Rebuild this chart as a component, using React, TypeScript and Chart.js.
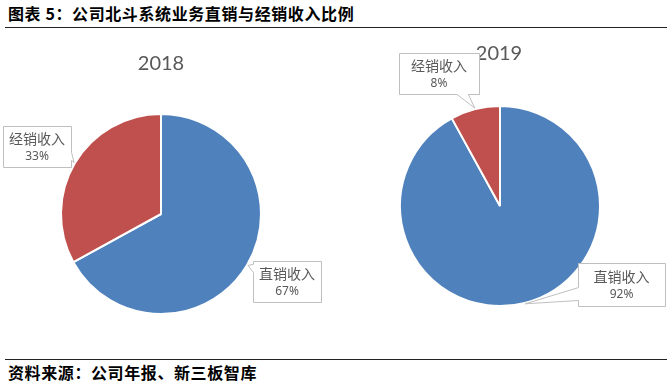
import React, { useEffect, useRef } from "react";
import { Chart, registerables } from "chart.js";

Chart.register(...registerables);

const categories = ["直销收入", "经销收入"];
const years = ["2018", "2019"];
const share2018 = [67, 33];
const share2019 = [92, 8];
const colors = ["#4F81BD", "#C0504D"];

const titleText = "图表 5：公司北斗系统业务直销与经销收入比例";
const sourceText = "资料来源：公司年报、新三板智库";

type Callout = { box: [number, number, number, number]; side: "left" | "right" | "bottom"; base: [number, number] };

const calloutPlugin = {
  id: "callouts",
  afterDraw(chart: any, _args: any, opts: any) {
    const meta = chart.getDatasetMeta(0);
    const ctx = chart.ctx;
    const ds = chart.data.datasets[0].data as number[];
    const total = ds.reduce((a: number, b: number) => a + b, 0);
    const arc0 = meta.data[0];
    const cx = arc0.x;
    const cy = arc0.y;
    ctx.save();
    ctx.font = "20px Lato, 'Noto Sans', sans-serif";
    ctx.fillStyle = "#595959";
    ctx.textAlign = "center";
    ctx.textBaseline = "middle";
    ctx.fillText(opts.year, cx + opts.titleDx, cy + opts.titleDy);
    ctx.restore();

    const callouts: Callout[] = opts.items;
    meta.data.forEach((arc: any, i: number) => {
      const c = callouts[i];
      if (!c) return;
      const mid = (arc.startAngle + arc.endAngle) / 2;
      const r = arc.outerRadius + 1;
      const tx = cx + Math.cos(mid) * r;
      const ty = cy + Math.sin(mid) * r;
      const x = cx + c.box[0];
      const y = cy + c.box[1];
      const w = c.box[2];
      const h = c.box[3];
      ctx.save();
      ctx.beginPath();
      ctx.moveTo(x + 0.5, y + 0.5);
      ctx.lineTo(x + w + 0.5, y + 0.5);
      if (c.side === "right") {
        ctx.lineTo(x + w + 0.5, y + h * c.base[0] + 0.5);
        ctx.lineTo(tx, ty);
        ctx.lineTo(x + w + 0.5, y + h * c.base[1] + 0.5);
      }
      ctx.lineTo(x + w + 0.5, y + h + 0.5);
      if (c.side === "bottom") {
        ctx.lineTo(x + w * c.base[1] + 0.5, y + h + 0.5);
        ctx.lineTo(tx, ty);
        ctx.lineTo(x + w * c.base[0] + 0.5, y + h + 0.5);
      }
      ctx.lineTo(x + 0.5, y + h + 0.5);
      if (c.side === "left") {
        ctx.lineTo(x + 0.5, y + h * c.base[1] + 0.5);
        ctx.lineTo(tx, ty);
        ctx.lineTo(x + 0.5, y + h * c.base[0] + 0.5);
      }
      ctx.closePath();
      ctx.fillStyle = "#FFFFFF";
      ctx.fill();
      ctx.strokeStyle = "#BFBFBF";
      ctx.lineWidth = 1;
      ctx.stroke();
      ctx.fillStyle = "#595959";
      ctx.textAlign = "center";
      ctx.textBaseline = "middle";
      ctx.font = "14px 'Noto Sans CJK SC', sans-serif";
      ctx.fillText(String(chart.data.labels[i]), x + w / 2, y + h * 0.32);
      ctx.font = "12px 'Noto Sans', 'DejaVu Sans', sans-serif";
      ctx.fillText(Math.round((ds[i] / total) * 100) + "%", x + w / 2, y + h * 0.74);
      ctx.restore();
    });
  },
};

function PieChart(props: {
  values: number[];
  year: string;
  padding: { left: number; right: number; top: number; bottom: number };
  items: Callout[];
  titleDx: number;
  titleDy: number;
  left: number;
}) {
  const ref = useRef<HTMLCanvasElement | null>(null);
  useEffect(() => {
    if (!ref.current) return;
    const chart = new Chart(ref.current, {
      type: "pie",
      data: {
        labels: categories,
        datasets: [
          {
            data: props.values,
            backgroundColor: colors,
            borderColor: "#FFFFFF",
            borderWidth: 2,
            hoverOffset: 0,
          },
        ],
      },
      options: {
        responsive: false,
        animation: false,
        events: [],
        layout: { padding: props.padding },
        plugins: {
          legend: { display: false },
          tooltip: { enabled: false },
          title: { display: false },
          callouts: { items: props.items, year: props.year, titleDx: props.titleDx, titleDy: props.titleDy },
        } as any,
      },
      plugins: [calloutPlugin],
    });
    return () => chart.destroy();
  }, []);
  return (
    <canvas
      ref={ref}
      width={336}
      height={310}
      style={{ position: "absolute", left: props.left, top: 30, width: 336, height: 310 }}
    />
  );
}

const headStyle: React.CSSProperties = {
  position: "absolute",
  left: 8,
  fontFamily: "'Noto Sans CJK SC', sans-serif",
  fontWeight: 700,
  fontSize: 16,
  lineHeight: "20px",
  letterSpacing: "0.6px",
  color: "#000",
  whiteSpace: "nowrap",
};

export default function App() {
  return (
    <div
      style={{
        position: "absolute",
        left: 0,
        top: 0,
        width: 672,
        height: 389,
        background: "#FFFFFF",
        overflow: "hidden",
      }}
    >
      <div style={{ ...headStyle, top: 3 }}>{titleText}</div>
      <div style={{ position: "absolute", left: 5, top: 27, width: 662, height: 1, background: "#222" }} />
      <PieChart
        values={share2018}
        year={years[0]}
        left={0}
        padding={{ left: 60, right: 74, top: 83, bottom: 25 }}
        titleDx={0}
        titleDy={-150}
        items={[
          { box: [92, 47, 68, 41], side: "left", base: [0.07, 0.27] },
          { box: [-158, -88, 68, 41], side: "right", base: [0.63, 0.83] },
        ]}
      />
      <PieChart
        values={share2019}
        year={years[1]}
        left={336}
        padding={{ left: 63, right: 71, top: 75, bottom: 33 }}
        titleDx={-1}
        titleDy={-152}
        items={[
          { box: [78, 57, 87, 43], side: "left", base: [0.56, 0.86] },
          { box: [-101, -153, 80, 41], side: "bottom", base: [0.72, 0.86] },
        ]}
      />
      <div style={{ position: "absolute", left: 5, top: 359, width: 662, height: 1, background: "#222" }} />
      <div style={{ ...headStyle, top: 362 }}>{sourceText}</div>
    </div>
  );
}
